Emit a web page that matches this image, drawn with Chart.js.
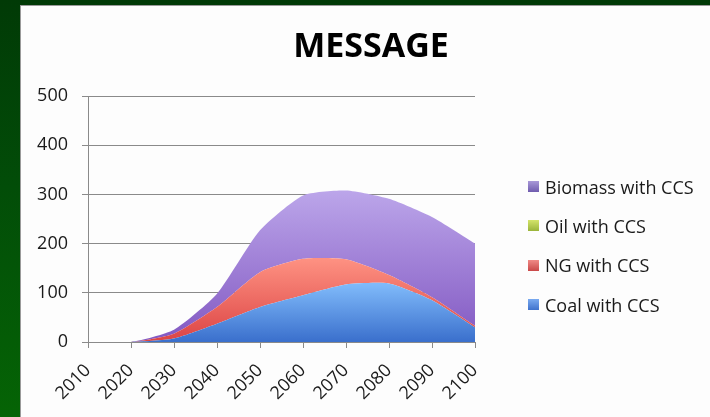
<!DOCTYPE html>
<html>
<head>
<meta charset="utf-8">
<script src="https://cdn.jsdelivr.net/npm/chart.js@4/dist/chart.umd.min.js"></script>
<style>
  html, body { margin: 0; padding: 0; }
  body {
    width: 710px; height: 417px; overflow: hidden; position: relative;
    background: linear-gradient(to bottom, #013a06 0%, #024d08 45%, #056405 100%);
    font-family: "Open Sans", "DejaVu Sans", sans-serif;
  }
  #panel {
    position: absolute; left: 20px; top: 5px; width: 690px; height: 412px;
    background: #fdfdfd; border-left: 1px solid #9a9a9a; border-top: 1px solid #9a9a9a;
    box-sizing: border-box;
  }
  #chart { position: absolute; left: 0; top: 0; }
  #title {
    position: absolute; left: 0; top: 21px; width: 700px; text-align: center;
    font-size: 34px; line-height: 34px; font-weight: bold; color: #000;
  }
  #legend { position: absolute; left: 507px; top: 161px; margin: 0; padding: 0; list-style: none; }
  #legend li { height: 39.3px; display: flex; align-items: center; font-size: 18px; color: #1a1a1a; white-space: nowrap; }
  #legend span.box { display: inline-block; width: 11px; height: 11px; margin-right: 6px; }
</style>
</head>
<body>
<div id="panel">
  <canvas id="chart" width="689" height="411"></canvas>
  <div id="title">MESSAGE</div>
  <ul id="legend"></ul>
</div>
<script>
const years = ['2010', '2020', '2030', '2040', '2050', '2060', '2070', '2080', '2090', '2100']
const coal = [0, 0, 7, 37, 71, 95, 117, 119, 85, 30]
const ng = [0, 0, 10, 34, 71, 74, 51, 17, 6, 3]
const oil = [0, 0, 0, 0, 0, 0, 0, 0, 0, 0]
const biomass = [0, 0, 8, 27, 85, 129, 140, 155, 163, 167]
const yTicks = [0, 100, 200, 300, 400, 500]

const fontFamily = '"Open Sans", "DejaVu Sans", sans-serif'

// vertical fill gradient, light at `topVal`, darker at the axis
const areaFill = (topVal, light, dark) => (ctx) => {
    const chart = ctx.chart
    if (!chart.chartArea) return dark
    const y = chart.scales.y
    const g = chart.ctx.createLinearGradient(0, y.getPixelForValue(topVal), 0, y.getPixelForValue(0))
    g.addColorStop(0, light)
    g.addColorStop(1, dark)
    return g
}

const legendColors = {
    'Coal with CCS': 'linear-gradient(#7aaaf0, #3f72cc)',
    'NG with CCS': 'linear-gradient(#f08a86, #c94848)',
    'Oil with CCS': 'linear-gradient(#d4e46a, #9ab43a)',
    'Biomass with CCS': 'linear-gradient(#a898d8, #6f5cae)'
}

const series = (label, data, fill, bg) => ({
    label: label,
    data: data,
    fill: fill,
    backgroundColor: bg,
    borderWidth: 0,
    pointRadius: 0,
    tension: 0.2
})

const chart = new Chart(document.getElementById('chart'), {
    type: 'line',
    data: {
        labels: years,
        datasets: [
            series('Coal with CCS', coal, 'origin', areaFill(125, '#84bffd', '#3a6fcc')),
            series('NG with CCS', ng, '-1', areaFill(175, '#ff9484', '#dc4444')),
            series('Oil with CCS', oil, '-1', '#b4cc4c'),
            series('Biomass with CCS', biomass, '-1', areaFill(310, '#bca6ea', '#8258c2'))
        ]
    },
    options: {
        responsive: false,
        animation: false,
        layout: { padding: { left: 11, right: 235, top: 90, bottom: 0 } },
        plugins: {
            legend: { display: false },
            tooltip: { enabled: false }
        },
        scales: {
            x: {
                offset: false,
                afterFit: (scale) => { scale.height = 75 },
                grid: { drawOnChartArea: false, drawTicks: true, tickLength: 6, color: '#8a8a8a' },
                border: { color: '#8a8a8a' },
                ticks: {
                    color: '#1a1a1a',
                    font: { family: fontFamily, size: 18 },
                    minRotation: 45,
                    maxRotation: 45,
                    padding: 12
                }
            },
            y: {
                stacked: true,
                min: 0,
                max: 500,
                afterBuildTicks: (scale) => { scale.ticks = yTicks.map(v => ({ value: v })) },
                afterFit: (scale) => { scale.width = 56 },
                grid: { color: '#8a8a8a', tickLength: 6 },
                border: { color: '#8a8a8a' },
                ticks: {
                    color: '#1a1a1a',
                    font: { family: fontFamily, size: 18 },
                    padding: 14
                }
            }
        }
    }
})

// legend, top entry is the top layer of the stack
const legend = document.getElementById('legend')
for (let ds of chart.data.datasets.slice().reverse()) {
    const li = document.createElement('li')
    li.innerHTML = `<span class="box" style="background:${legendColors[ds.label]}"></span>${ds.label}`
    legend.appendChild(li)
}
</script>
</body>
</html>
